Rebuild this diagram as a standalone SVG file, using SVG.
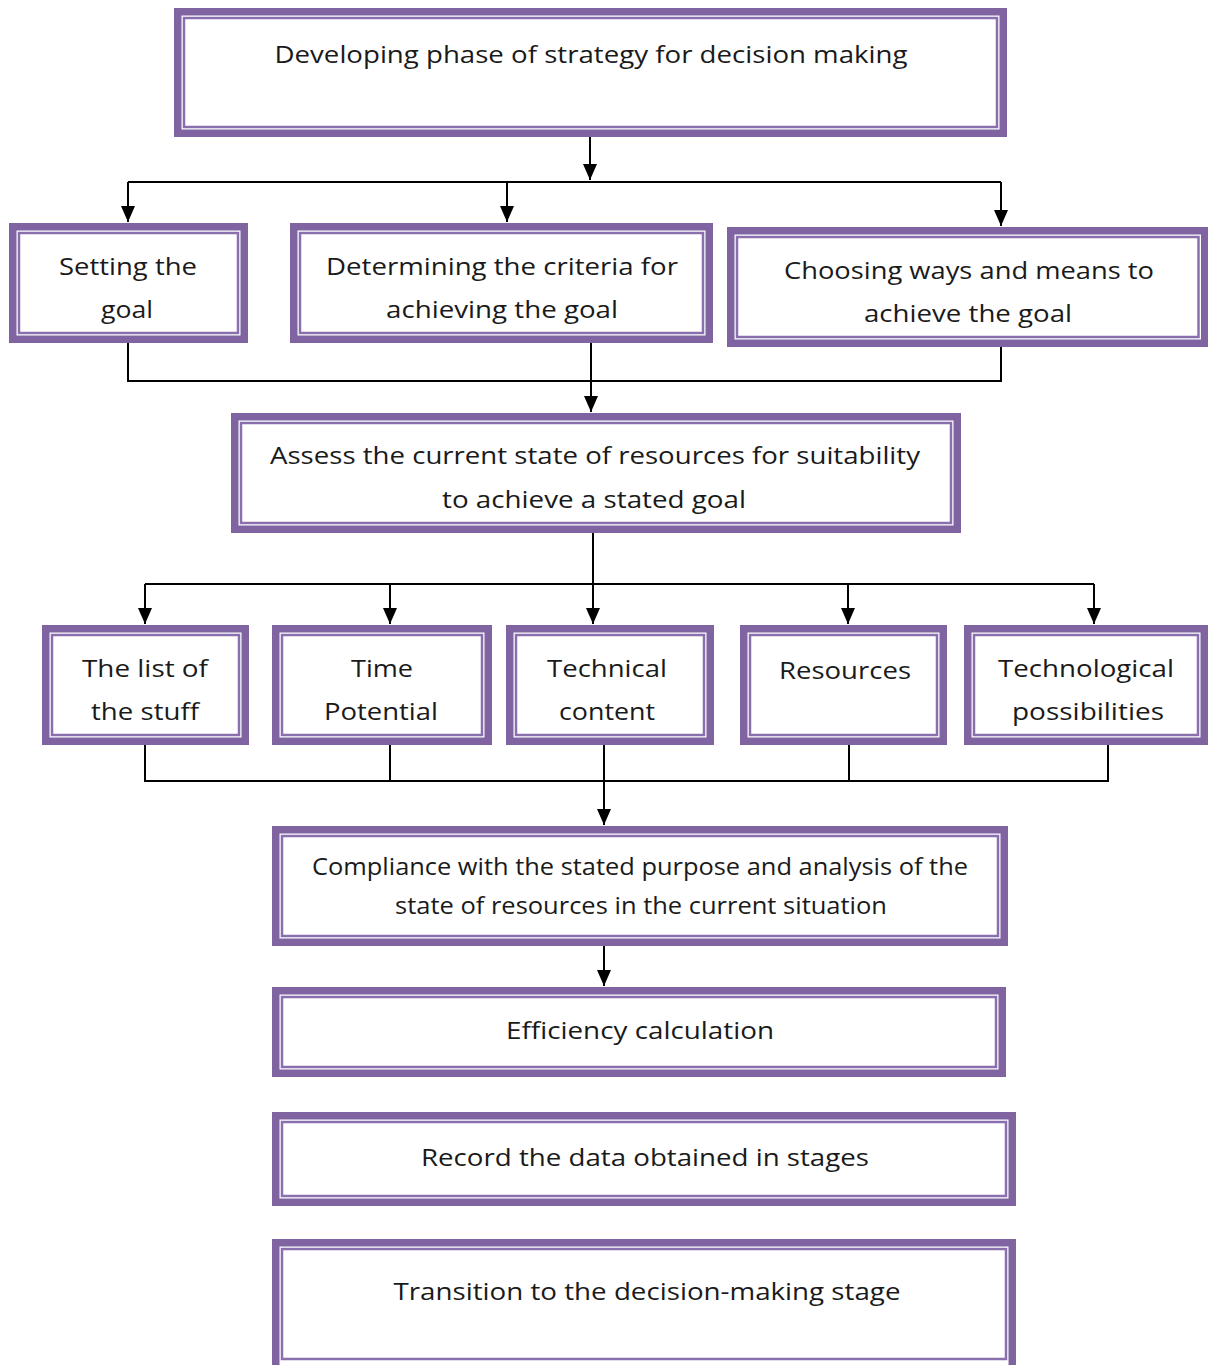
<svg xmlns="http://www.w3.org/2000/svg" width="1208" height="1365" viewBox="0 0 1208 1365">
<style>
.o{fill:#fff;stroke:#8064A2;stroke-width:7.5}
.i{fill:none;stroke:#8a6fae;stroke-width:2.5}
.t{font-family:"Open Sans","DejaVu Sans",sans-serif;font-size:24px;fill:#1a1a1a;text-anchor:middle}
.c{fill:none;stroke:#000;stroke-width:2}
</style>
<defs>
<marker id="ah" markerUnits="userSpaceOnUse" markerWidth="16" markerHeight="14" viewBox="0 0 16 14" refX="16" refY="7" orient="auto">
<path d="M0,0 L16,7 L0,14 Z" fill="#000"/>
</marker>
</defs>
<g id="connectors">
<path class="c" d="M590,137 V180" marker-end="url(#ah)"/>
<path class="c" d="M128,182 H1001"/>
<path class="c" d="M128,182 V222" marker-end="url(#ah)"/>
<path class="c" d="M507,182 V222" marker-end="url(#ah)"/>
<path class="c" d="M1001,182 V226" marker-end="url(#ah)"/>
<path class="c" d="M128,343 V381 H1001 V347"/>
<path class="c" d="M591,343 V412" marker-end="url(#ah)"/>
<path class="c" d="M593,533 V624" marker-end="url(#ah)"/>
<path class="c" d="M145,584 H1094"/>
<path class="c" d="M145,584 V624" marker-end="url(#ah)"/>
<path class="c" d="M390,584 V624" marker-end="url(#ah)"/>
<path class="c" d="M848,584 V624" marker-end="url(#ah)"/>
<path class="c" d="M1094,584 V624" marker-end="url(#ah)"/>
<path class="c" d="M145,745 V781 H1108 V745"/>
<path class="c" d="M390,745 V781"/>
<path class="c" d="M849,745 V781"/>
<path class="c" d="M604,745 V825" marker-end="url(#ah)"/>
<path class="c" d="M604,946 V986" marker-end="url(#ah)"/>
</g>
<g id="n1"><rect class="o" x="177.75" y="11.75" width="825.5" height="121.5"/><rect class="i" x="184" y="18" width="813" height="109"/>
<text class="t" x="591" y="63" textLength="633" lengthAdjust="spacingAndGlyphs">Developing phase of strategy for decision making</text></g>
<g id="n2"><rect class="o" x="12.75" y="226.75" width="231.5" height="112.5"/><rect class="i" x="19" y="233" width="219" height="100"/>
<text class="t" x="128" y="275" textLength="138" lengthAdjust="spacingAndGlyphs">Setting the</text>
<text class="t" x="127" y="318" textLength="52" lengthAdjust="spacingAndGlyphs">goal</text></g>
<g id="n3"><rect class="o" x="293.75" y="226.75" width="415.5" height="112.5"/><rect class="i" x="300" y="233" width="403" height="100"/>
<text class="t" x="502" y="275" textLength="352" lengthAdjust="spacingAndGlyphs">Determining the criteria for</text>
<text class="t" x="502" y="318" textLength="232" lengthAdjust="spacingAndGlyphs">achieving the goal</text></g>
<g id="n4"><rect class="o" x="730.75" y="230.75" width="474" height="112.5"/><rect class="i" x="737" y="237" width="461.5" height="100"/>
<text class="t" x="969" y="279" textLength="370" lengthAdjust="spacingAndGlyphs">Choosing ways and means to</text>
<text class="t" x="968" y="322" textLength="208" lengthAdjust="spacingAndGlyphs">achieve the goal</text></g>
<g id="n5"><rect class="o" x="234.75" y="416.75" width="722.5" height="112.5"/><rect class="i" x="241" y="423" width="710" height="100"/>
<text class="t" x="595" y="464" textLength="650" lengthAdjust="spacingAndGlyphs">Assess the current state of resources for suitability</text>
<text class="t" x="594" y="508" textLength="304" lengthAdjust="spacingAndGlyphs">to achieve a stated goal</text></g>
<g id="n6"><rect class="o" x="45.75" y="628.75" width="199.5" height="112.5"/><rect class="i" x="52" y="635" width="187" height="100"/>
<text class="t" x="145" y="677" textLength="126" lengthAdjust="spacingAndGlyphs">The list of</text>
<text class="t" x="145" y="720" textLength="108" lengthAdjust="spacingAndGlyphs">the stuff</text></g>
<g id="n7"><rect class="o" x="275.75" y="628.75" width="212.5" height="112.5"/><rect class="i" x="282" y="635" width="200" height="100"/>
<text class="t" x="382" y="677" textLength="62" lengthAdjust="spacingAndGlyphs">Time</text>
<text class="t" x="381" y="720" textLength="114" lengthAdjust="spacingAndGlyphs">Potential</text></g>
<g id="n8"><rect class="o" x="509.75" y="628.75" width="200.5" height="112.5"/><rect class="i" x="516" y="635" width="188" height="100"/>
<text class="t" x="607" y="677" textLength="120" lengthAdjust="spacingAndGlyphs">Technical</text>
<text class="t" x="607" y="720" textLength="96" lengthAdjust="spacingAndGlyphs">content</text></g>
<g id="n9"><rect class="o" x="743.75" y="628.75" width="199.5" height="112.5"/><rect class="i" x="750" y="635" width="187" height="100"/>
<text class="t" x="845" y="679" textLength="132" lengthAdjust="spacingAndGlyphs">Resources</text></g>
<g id="n10"><rect class="o" x="967.75" y="628.75" width="236.5" height="112.5"/><rect class="i" x="974" y="635" width="224" height="100"/>
<text class="t" x="1086" y="677" textLength="176" lengthAdjust="spacingAndGlyphs">Technological</text>
<text class="t" x="1088" y="720" textLength="152" lengthAdjust="spacingAndGlyphs">possibilities</text></g>
<g id="n11"><rect class="o" x="275.75" y="829.75" width="728.5" height="112.5"/><rect class="i" x="282" y="836" width="716" height="100"/>
<text class="t" x="640" y="875" textLength="656" lengthAdjust="spacingAndGlyphs">Compliance with the stated purpose and analysis of the</text>
<text class="t" x="641" y="914" textLength="492" lengthAdjust="spacingAndGlyphs">state of resources in the current situation</text></g>
<g id="n12"><rect class="o" x="275.75" y="990.75" width="726.5" height="82.5"/><rect class="i" x="282" y="997" width="714" height="70"/>
<text class="t" x="640" y="1039" textLength="268" lengthAdjust="spacingAndGlyphs">Efficiency calculation</text></g>
<g id="n13"><rect class="o" x="275.75" y="1115.75" width="736.5" height="86.5"/><rect class="i" x="282" y="1122" width="724" height="74"/>
<text class="t" x="645" y="1166" textLength="448" lengthAdjust="spacingAndGlyphs">Record the data obtained in stages</text></g>
<g id="n14"><rect class="o" x="275.75" y="1242.75" width="736.5" height="130"/><rect class="i" x="282" y="1249" width="724" height="110"/>
<text class="t" x="647" y="1300" textLength="507" lengthAdjust="spacingAndGlyphs">Transition to the decision-making stage</text></g>
</svg>
